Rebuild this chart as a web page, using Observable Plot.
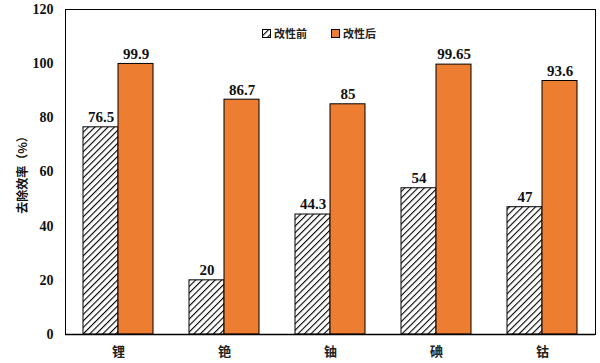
<!DOCTYPE html>
<html><head><meta charset="utf-8">
<script src="https://cdn.jsdelivr.net/npm/d3@7"></script>
<script src="https://cdn.jsdelivr.net/npm/@observablehq/plot@0.6"></script>
<style>
body{margin:0;background:#fff;}
#wrap{position:relative;width:600px;height:363px;}
#legend{position:absolute;left:262px;top:25px;font-family:"Noto Sans CJK SC",sans-serif;font-size:11px;font-weight:bold;color:#222;display:flex;gap:24px;}
#legend span.item{display:flex;align-items:center;gap:3px;}
#legend svg{display:block}
</style></head>
<body><div id="wrap"><div id="legend"></div></div>
<script>
const categories = ["锂", "铯", "铀", "碘", "钴"];
const before = [76.5, 20, 44.3, 54, 47];
const after = [99.9, 86.7, 85, 99.65, 93.6];
const seriesNames = ["改性前", "改性后"];
const yTicks = [0, 20, 40, 60, 80, 100, 120];

const data = categories.map((c, i) => ({metal: c, before: before[i], after: after[i]}));
const serif = "'Liberation Serif','Times New Roman','Noto Sans CJK SC',serif";
const cjk = "'Noto Sans CJK SC',sans-serif";

const chart = Plot.plot({
  width: 600, height: 363,
  marginLeft: 65, marginRight: 5, marginTop: 9, marginBottom: 29,
  x: {domain: categories, padding: 0},
  y: {domain: [0, 120]},
  marks: [
    Plot.barY(data, {x: "metal", y: "before", insetLeft: 18, insetRight: 53, fill: "url(#hatch)", stroke: "#000", strokeWidth: 1}),
    Plot.barY(data, {x: "metal", y: "after", insetLeft: 53, insetRight: 18, fill: "#ED7D31", stroke: "#000", strokeWidth: 1}),
    Plot.text(data, {x: "metal", y: "before", text: d => String(d.before), dx: -17.5, dy: -10, fontFamily: serif, fontWeight: "bold", fontSize: 15, fill: "#111"}),
    Plot.text(data, {x: "metal", y: "after", text: d => String(d.after), dx: 17.5, dy: -10, fontFamily: serif, fontWeight: "bold", fontSize: 15, fill: "#111"}),
    Plot.frame({stroke: "#000", strokeWidth: 1}),
    Plot.ruleY([0], {stroke: "#000", strokeWidth: 1.5}),
    Plot.axisY({ticks: yTicks, tickSize: 0, tickPadding: 12, label: null, fontFamily: serif, fontWeight: "bold", fontSize: 14, fill: "#111"}),
    Plot.axisY({ticks: [], label: "去除效率（%）", labelAnchor: "center", labelArrow: "none", labelOffset: 47, fontFamily: cjk, fontWeight: "bold", fontSize: 12, fill: "#111"}),
    Plot.axisX({tickSize: 0, tickPadding: 12, label: null, fontFamily: cjk, fontWeight: "bold", fontSize: 13, fill: "#222"})
  ]
});

// hatch pattern
const svg = d3.select(chart);
const defs = svg.insert("defs", ":first-child");
const pat = defs.append("pattern").attr("id", "hatch").attr("patternUnits", "userSpaceOnUse")
  .attr("width", 4.6).attr("height", 4.6).attr("patternTransform", "rotate(45)");
pat.append("rect").attr("width", 4.6).attr("height", 4.6).attr("fill", "#fff");
pat.append("line").attr("x1", 0).attr("y1", 0).attr("x2", 0).attr("y2", 4.6).attr("stroke", "#000").attr("stroke-width", 2.2);

document.getElementById("wrap").prepend(chart);

// legend
const leg = d3.select("#legend");
const fills = ["url(#hatch)", "#ED7D31"];
seriesNames.forEach((name, i) => {
  const it = leg.append("span").attr("class", "item");
  const s = it.append("svg").attr("width", 9).attr("height", 9);
  s.append("rect").attr("x", 0.5).attr("y", 0.5).attr("width", 8).attr("height", 8).attr("fill", fills[i]).attr("stroke", "#000");
  it.append("span").text(name);
});
</script></body></html>
